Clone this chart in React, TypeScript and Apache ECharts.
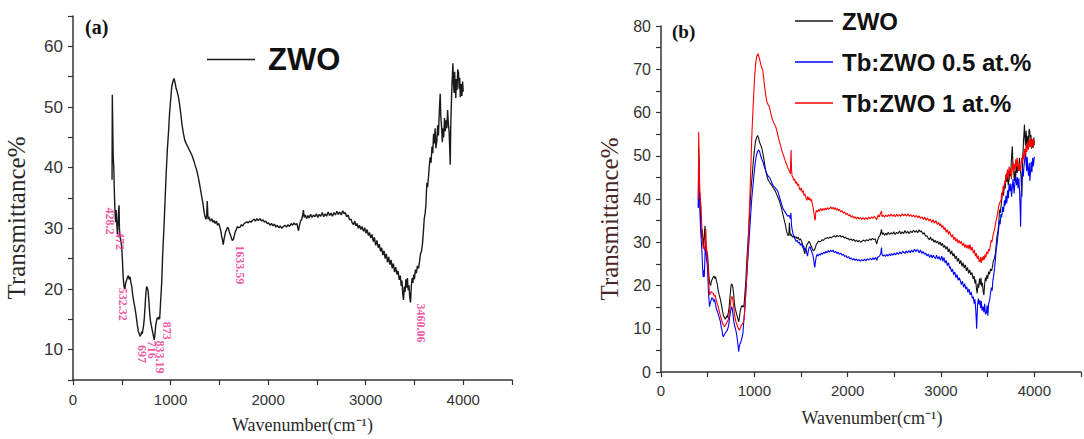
import React, { useEffect, useRef } from "react";
import * as echarts from "echarts";

// ---------- DATA ----------
const seriesNames = ["ZWO", "Tb:ZWO 0.5 at.%", "Tb:ZWO 1 at.%"];

const zwo: [number, number][] = [
  [400, 38], [403, 52], [408, 46], [412, 42], [418, 40], [424, 36], [430, 33], [436, 31], [442, 33], [448, 31],
  [455, 29], [462, 31], [468, 33], [472, 33.8], [476, 30], [482, 28.6], [490, 28], [499, 27], [506, 25], [514, 22],
  [523, 20.4], [532, 20], [540, 21], [550, 21.5], [560, 22], [568, 22.2], [576, 21.6], [585, 22], [594, 21], [602, 20.5],
  [612, 19], [622, 18], [636, 16.8], [648, 15.5], [660, 14], [670, 13], [680, 12.6], [687, 12.2], [697, 12.5], [705, 13],
  [710, 12.6], [716, 13.2], [722, 13.8], [730, 15], [740, 17.5], [748, 19.5], [755, 20.4], [762, 20.2], [770, 19.6], [778, 18],
  [786, 16], [795, 14.6], [803, 14], [810, 13.4], [818, 12.8], [825, 12.2], [833, 11.6], [840, 12.5], [848, 14], [858, 14.9],
  [866, 15.3], [873, 15], [880, 15.4], [888, 15], [895, 17], [902, 19], [909, 21], [920, 26], [932, 30], [944, 34.7],
  [955, 39], [967, 43], [978, 45.6], [990, 49], [1000, 51], [1012, 53.3], [1024, 54.2], [1036, 54.7], [1046, 54], [1058, 53],
  [1068, 52.5], [1080, 51.7], [1092, 50.5], [1104, 49], [1118, 47], [1132, 45.6], [1146, 44.5], [1160, 44], [1175, 43.5], [1190, 43],
  [1205, 42.5], [1220, 42], [1235, 41.3], [1250, 40.5], [1268, 39.6], [1282, 38.6], [1295, 37.5], [1308, 36.3], [1320, 35.2], [1333, 34],
  [1345, 32.5], [1354, 31.9], [1362, 31.5], [1370, 32], [1376, 34.5], [1380, 33], [1384, 31.5], [1392, 31.9], [1400, 31.5],
  [1410, 31.2], [1422, 31.6], [1434, 31], [1446, 31.3], [1458, 30.8], [1470, 31.2], [1482, 30.5], [1494, 30.8], [1506, 30.2], [1516, 29.5],
  [1525, 28.6], [1533, 28], [1540, 27.3], [1548, 28.2], [1556, 28.8], [1565, 29.5], [1575, 29.8], [1584, 30.2], [1593, 30], [1602, 29.4],
  [1612, 29], [1622, 28.5], [1633, 28], [1644, 28.2], [1654, 28.8], [1664, 29.5], [1675, 29.8], [1686, 30.3], [1698, 30.1], [1713, 30.2],
  [1726, 30.6], [1740, 30.4], [1754, 30.8], [1768, 30.9], [1782, 31.1], [1796, 30.9], [1810, 31.2], [1825, 31], [1840, 31.3], [1855, 31.5],
  [1870, 31.2], [1885, 31.6], [1900, 31.3], [1918, 31.6], [1932, 31.2], [1948, 31.4], [1962, 31], [1976, 31.2], [1990, 30.8], [2005, 30.9],
  [2020, 30.5], [2035, 30.8], [2050, 30.4], [2065, 30.7], [2080, 30.2], [2095, 30.5], [2110, 30.1], [2125, 30.4], [2140, 30], [2157, 30.3],
  [2172, 30.5], [2188, 30.2], [2204, 30.6], [2220, 30.3], [2236, 30.8], [2250, 30.5], [2265, 30.9], [2280, 30.6], [2295, 30.8], [2305, 30],
  [2312, 29.6], [2320, 30.4], [2332, 31.2], [2345, 31.5], [2355, 32.2], [2362, 33], [2370, 31.8], [2382, 32.2], [2395, 31.6], [2408, 32.1],
  [2420, 31.7], [2435, 32.3], [2450, 31.8], [2465, 32.2], [2480, 31.9], [2495, 32.4], [2510, 31.8], [2525, 32.3], [2540, 32], [2555, 32.6],
  [2570, 31.9], [2585, 32.4], [2600, 32], [2615, 32.7], [2630, 32.1], [2645, 32.5], [2660, 32], [2675, 32.6], [2690, 32.2], [2705, 32.8],
  [2720, 32.3], [2735, 32.7], [2750, 32.2], [2765, 32.9], [2778, 32.4], [2790, 32.6], [2805, 31.9], [2820, 32.2], [2835, 31.4], [2850, 31.5],
  [2862, 30.9], [2875, 30.6], [2888, 31.2], [2900, 30.4], [2912, 30.8], [2925, 30], [2937, 30.5], [2950, 29.8], [2962, 30.3], [2978, 29.5],
  [2990, 30.1], [3003, 29.2], [3015, 29.8], [3028, 28.8], [3040, 29.3], [3052, 28.4], [3065, 29], [3078, 27.8], [3090, 28.5], [3102, 27.2],
  [3115, 28], [3128, 26.8], [3140, 27.4], [3152, 26.2], [3164, 26.8], [3176, 25.6], [3188, 26.3], [3200, 25], [3212, 25.8], [3224, 24.4],
  [3236, 25.3], [3248, 24], [3260, 24.8], [3272, 23.4], [3284, 24.2], [3296, 22.8], [3308, 23.6], [3320, 22.4], [3332, 23], [3344, 21.5],
  [3355, 22.2], [3364, 20.5], [3372, 21.4], [3380, 19.2], [3388, 18.2], [3396, 20.4], [3404, 19.5], [3412, 21.6], [3420, 20.2], [3428, 21.8],
  [3436, 19.8], [3444, 20.6], [3452, 18.6], [3460, 17.8], [3468, 20.5], [3476, 21.8], [3484, 21], [3492, 22.4], [3500, 21.6], [3510, 23.2],
  [3520, 22.6], [3530, 23.8], [3542, 23.4], [3552, 24.5], [3562, 25.8], [3572, 26.2], [3582, 27.4], [3592, 29.5], [3600, 31.5], [3610, 32.5],
  [3618, 34], [3627, 37.5], [3635, 36.8], [3644, 38.5], [3652, 40.2], [3661, 41.7], [3670, 40.8], [3680, 43.5], [3688, 42.4], [3696, 45.6],
  [3704, 44], [3712, 46.5], [3720, 43.2], [3730, 44.5], [3738, 47], [3746, 45.3], [3754, 48.8], [3760, 51], [3764, 52.2], [3770, 48.5],
  [3778, 46.8], [3786, 44.2], [3794, 46.5], [3800, 45], [3808, 48.2], [3816, 46], [3824, 47.8], [3832, 46.5], [3840, 49.5], [3848, 47.2],
  [3856, 45.8], [3862, 43], [3867, 40.5], [3872, 46.8], [3878, 50.2], [3884, 53.5], [3890, 55.5], [3894, 57.2], [3900, 54], [3906, 52.3],
  [3912, 55.8], [3918, 53.4], [3924, 51.5], [3930, 54.6], [3936, 52.8], [3944, 56.2], [3952, 55.6], [3958, 53], [3964, 54.8], [3970, 51.6],
  [3978, 53.8], [3986, 51.8], [3994, 54.2], [4000, 52.5],
];

const tb05: [number, number][] = [
  [400, 38], [404, 50], [410, 44], [416, 38], [422, 34], [430, 31], [438, 28], [446, 24], [452, 22], [458, 23.5],
  [464, 22], [470, 26], [476, 30.5], [482, 28], [488, 26], [495, 25], [502, 22], [510, 18], [520, 15.1], [528, 16],
  [536, 16.5], [545, 17.2], [555, 17], [565, 16.3], [575, 16.8], [585, 15.5], [595, 14.5], [605, 14], [615, 13.2], [625, 12.5],
  [635, 11.8], [645, 10.5], [655, 9.5], [663, 8.3], [670, 8.2], [678, 8.6], [686, 8.9], [694, 9.2], [702, 9.5], [710, 9.6],
  [718, 10.2], [726, 11], [735, 12.5], [745, 14], [755, 15.1], [762, 14.8], [770, 13.6], [778, 12], [788, 10.8], [798, 10],
  [808, 9], [818, 7.5], [826, 6], [832, 4.7], [838, 5.8], [846, 6.5], [854, 6.8], [862, 7.5], [870, 8.2], [878, 9],
  [886, 11.5], [894, 13.5], [902, 16], [912, 19.5], [924, 24], [936, 28], [948, 32], [960, 36], [972, 40], [985, 43],
  [998, 46], [1010, 48.5], [1022, 50], [1034, 51], [1046, 51.3], [1056, 51], [1068, 50], [1080, 49.2], [1094, 48.5], [1108, 47.4],
  [1122, 46.5], [1136, 45.8], [1150, 45.2], [1164, 45], [1178, 44.3], [1192, 43.5], [1206, 43], [1220, 42.7], [1234, 42.3], [1248, 42],
  [1262, 41], [1276, 40], [1290, 39], [1304, 38], [1318, 37.4], [1332, 36.9], [1346, 36.4], [1360, 36], [1372, 36.2], [1380, 36],
  [1386, 35.4], [1392, 36.8], [1398, 34], [1405, 33], [1414, 32], [1423, 31.2], [1435, 30.8], [1447, 30.2], [1458, 30.5], [1470, 29.8],
  [1482, 30.1], [1493, 29.3], [1505, 29.7], [1517, 28.8], [1528, 29.2], [1540, 28.2], [1552, 28.6], [1563, 27.4], [1570, 26.8], [1578, 28],
  [1588, 28.8], [1598, 29], [1608, 28.2], [1618, 27.6], [1628, 27], [1636, 26], [1642, 24.8], [1648, 24.2], [1654, 25.4], [1662, 26.5],
  [1672, 27.2], [1684, 26.8], [1695, 27.3], [1706, 27], [1718, 27.5], [1730, 27.2], [1742, 27.7], [1755, 27.4], [1768, 27.9], [1780, 27.6],
  [1792, 28.1], [1805, 27.7], [1818, 28.2], [1830, 27.8], [1843, 28.2], [1856, 27.6], [1870, 27.9], [1884, 27.4], [1898, 27.7], [1912, 27.2],
  [1926, 27.5], [1940, 27], [1954, 27.2], [1968, 26.7], [1982, 26.9], [1996, 26.4], [2010, 26.7], [2024, 26.1], [2038, 26.4], [2052, 25.9],
  [2066, 26.2], [2080, 25.8], [2094, 26.1], [2108, 25.7], [2122, 26], [2136, 25.6], [2150, 26], [2165, 25.7], [2180, 26.1], [2195, 25.7],
  [2210, 26.2], [2227, 25.9], [2242, 26.3], [2258, 25.9], [2272, 26.4], [2286, 26], [2300, 26.5], [2312, 25.8], [2322, 26.6], [2332, 26.6],
  [2345, 26.9], [2356, 27.6], [2362, 28.8], [2368, 27.2], [2378, 26.8], [2390, 27.1], [2404, 26.7], [2418, 27.2], [2432, 26.8], [2446, 27.3],
  [2460, 26.9], [2472, 27.4], [2486, 27], [2500, 27.5], [2515, 27.1], [2530, 27.6], [2545, 27.2], [2560, 27.8], [2575, 27.3], [2590, 27.9],
  [2612, 27.4], [2626, 28], [2640, 27.5], [2655, 28.1], [2670, 27.6], [2685, 28.2], [2700, 27.7], [2715, 28.4], [2730, 27.8], [2745, 28.3],
  [2752, 28.2], [2766, 27.6], [2780, 28.2], [2795, 27.4], [2810, 27.9], [2822, 27.2], [2836, 27.5], [2850, 26.8], [2864, 27.3], [2878, 26.5],
  [2892, 27.1], [2906, 26.4], [2918, 27], [2927, 26.6], [2940, 26.2], [2952, 27], [2966, 26.1], [2980, 26.7], [2994, 25.8], [3008, 26.8],
  [3020, 25.6], [3032, 26.5], [3044, 25.2], [3056, 25.8], [3068, 24.6], [3080, 25.3], [3092, 24], [3101, 24.3], [3112, 23.2], [3124, 23.8],
  [3136, 22.5], [3148, 23.1], [3160, 21.8], [3172, 22.5], [3184, 21.2], [3196, 21.8], [3206, 21.2], [3218, 20.2], [3230, 21], [3242, 19.6],
  [3254, 20.4], [3266, 19.2], [3276, 19.7], [3288, 18.4], [3300, 19.2], [3312, 17.8], [3324, 18.5], [3336, 17], [3346, 17.4], [3356, 15.8],
  [3364, 16.8], [3372, 14.5], [3378, 12], [3382, 10], [3386, 12.5], [3392, 15.5], [3400, 17], [3408, 15.6], [3416, 16.6], [3424, 14.8],
  [3432, 16.4], [3440, 14.2], [3451, 15.1], [3460, 13.8], [3468, 15.8], [3476, 13.4], [3486, 13.6], [3494, 15.4], [3502, 13], [3510, 15.8],
  [3521, 16.6], [3530, 18.2], [3540, 19.5], [3548, 18.8], [3556, 21.2], [3566, 22.5], [3576, 24.5], [3584, 26.2], [3591, 28.2], [3600, 29.5],
  [3610, 31.5], [3618, 33.2], [3626, 35.1], [3634, 34.2], [3642, 36.5], [3650, 35.8], [3661, 38.2], [3670, 37], [3680, 39.7], [3688, 38.5],
  [3696, 40.8], [3705, 39], [3714, 42], [3722, 40.2], [3730, 43.5], [3740, 41.8], [3748, 43.6], [3756, 40.5], [3764, 42.8], [3772, 44.6],
  [3783, 41.3], [3792, 43.8], [3800, 45.1], [3810, 43.2], [3818, 45.1], [3826, 42.5], [3834, 44.8], [3842, 41.6], [3848, 38], [3853, 33.6],
  [3858, 40.2], [3866, 44.5], [3874, 46.8], [3882, 45.2], [3888, 47.4], [3896, 48.8], [3906, 51.5], [3912, 48.2], [3918, 46.5], [3923, 49.7],
  [3930, 47.2], [3938, 45.4], [3946, 48.3], [3952, 44.2], [3958, 45.8], [3966, 48.6], [3974, 46.2], [3982, 49.5], [3990, 47.6], [4000, 49.8],
];

const tb1: [number, number][] = [
  [400, 40], [404, 55.5], [410, 47], [416, 42], [422, 40], [430, 38], [438, 33], [446, 30], [454, 28.5], [462, 29],
  [470, 28], [476, 31], [480, 33], [486, 29], [494, 27], [502, 25], [510, 21], [520, 17.8], [528, 18.2], [538, 18.6],
  [548, 18.3], [560, 18.2], [570, 17.5], [580, 17.8], [590, 16.8], [600, 16], [612, 15.2], [625, 14], [638, 12.8], [650, 12],
  [660, 11.2], [670, 10.8], [680, 10.5], [690, 10.8], [700, 11.2], [710, 11.6], [720, 12], [730, 13.4], [740, 15], [750, 16.8],
  [760, 17.5], [768, 17], [776, 15.5], [786, 13.6], [796, 12.2], [806, 11.4], [816, 10.8], [826, 10.2], [836, 9.8], [842, 9.7],
  [850, 10.2], [860, 10.8], [870, 11], [880, 11.4], [890, 12.2], [900, 15], [910, 19], [920, 23], [930, 27], [940, 33],
  [951, 39.7], [962, 47], [972, 54], [982, 59], [993, 64], [1004, 68.5], [1015, 71.5], [1026, 73], [1040, 73.6], [1050, 72.8],
  [1060, 72], [1070, 71], [1080, 70.4], [1091, 69.7], [1100, 68], [1110, 66], [1122, 64], [1134, 62.5], [1148, 61.8], [1161, 61.3],
  [1175, 60], [1190, 58.6], [1205, 57.8], [1218, 57.2], [1231, 56.6], [1245, 55.4], [1260, 54], [1275, 52.8], [1290, 51.6], [1304, 50.6],
  [1318, 49.7], [1332, 48.8], [1346, 48], [1360, 47.2], [1371, 46.6], [1380, 46.3], [1386, 45.8], [1390, 49], [1394, 51.3], [1398, 47],
  [1404, 45.4], [1414, 45], [1423, 44.3], [1433, 44.6], [1443, 43.6], [1453, 44], [1463, 43.1], [1473, 43.5], [1483, 42.4], [1493, 42],
  [1503, 42.6], [1513, 41.5], [1523, 42], [1533, 40.8], [1543, 41.2], [1553, 40.3], [1563, 39.7], [1572, 40.6], [1582, 39.8], [1592, 40.3],
  [1602, 39.6], [1612, 39.9], [1622, 38.8], [1632, 37.8], [1640, 36.6], [1646, 35.4], [1652, 35.1], [1658, 36.8], [1666, 37.4], [1676, 37],
  [1688, 37.6], [1700, 37.2], [1712, 37.8], [1724, 37.3], [1736, 37.8], [1748, 37.4], [1760, 37.9], [1772, 37.5], [1784, 38], [1796, 37.6],
  [1808, 37.8], [1820, 38.2], [1832, 37.7], [1844, 38.1], [1856, 37.6], [1868, 38], [1880, 37.4], [1892, 37.8], [1904, 37.3], [1913, 37.6],
  [1926, 37], [1940, 37.3], [1954, 36.7], [1968, 37], [1982, 36.4], [1996, 36.7], [2010, 36.1], [2024, 36.4], [2038, 35.8], [2052, 36.1],
  [2066, 35.6], [2080, 35.9], [2094, 35.4], [2108, 35.8], [2122, 35.4], [2136, 35.7], [2150, 35.3], [2165, 35.7], [2180, 35.3], [2195, 35.7],
  [2210, 35.3], [2225, 35.8], [2240, 35.4], [2255, 35.9], [2270, 35.5], [2285, 36], [2298, 35.6], [2310, 35.2], [2318, 35.8], [2328, 36.3],
  [2338, 35.8], [2348, 36.5], [2356, 36.9], [2362, 37.2], [2368, 35.9], [2380, 36.3], [2394, 35.8], [2408, 36.3], [2422, 35.9], [2436, 36.4],
  [2450, 36], [2465, 36.5], [2480, 36], [2495, 36.4], [2510, 35.9], [2525, 36.5], [2540, 36], [2555, 36.4], [2570, 36], [2585, 36.6],
  [2600, 36.1], [2615, 36.5], [2630, 36], [2645, 36.6], [2660, 36], [2675, 36.4], [2690, 35.9], [2705, 36.3], [2720, 35.8], [2735, 36.2],
  [2750, 35.7], [2765, 36.1], [2780, 35.5], [2795, 35.9], [2810, 35.3], [2825, 35.8], [2840, 35.1], [2855, 35.6], [2870, 34.9], [2885, 35.4],
  [2900, 34.6], [2915, 35.2], [2930, 34.4], [2945, 35], [2960, 34.1], [2975, 34.6], [2988, 33.8], [2997, 34.3], [3008, 33.4], [3020, 33.9],
  [3032, 32.9], [3044, 33.4], [3056, 32.3], [3068, 32.9], [3080, 31.8], [3090, 32.5], [3101, 32], [3112, 31.2], [3124, 31.8], [3136, 30.6],
  [3148, 31.2], [3160, 30.2], [3172, 30.8], [3184, 29.8], [3196, 30.4], [3206, 29.7], [3218, 30.2], [3230, 29.2], [3242, 29.8], [3254, 28.8],
  [3266, 29.5], [3278, 28.6], [3290, 29.4], [3300, 28.4], [3311, 29.5], [3322, 28.1], [3334, 28.9], [3346, 27.5], [3358, 28.2], [3368, 26.8],
  [3378, 27.5], [3388, 26.2], [3398, 26.9], [3408, 25.6], [3416, 25.5], [3424, 26.6], [3432, 25.2], [3440, 26.5], [3448, 25.8], [3456, 26.8],
  [3464, 26], [3472, 27.2], [3480, 26.5], [3490, 27.8], [3500, 27.3], [3510, 28.4], [3520, 28], [3530, 29.5], [3538, 30.5], [3546, 30],
  [3556, 31.5], [3566, 32.4], [3576, 33.2], [3584, 34.2], [3591, 35.1], [3600, 36], [3610, 37.2], [3620, 38.5], [3630, 39.2], [3643, 39.7],
  [3650, 41.5], [3658, 40.6], [3666, 43], [3674, 42], [3682, 44.2], [3690, 43.4], [3696, 45.8], [3704, 44.5], [3712, 46.8], [3720, 45],
  [3730, 47.5], [3738, 45.8], [3746, 47], [3754, 44.6], [3762, 46.8], [3770, 48.5], [3778, 46.2], [3786, 48], [3794, 46.8], [3800, 49.2],
  [3808, 47.4], [3816, 49.6], [3824, 47.8], [3832, 46.5], [3840, 48.2], [3848, 46.4], [3856, 47], [3864, 49.5], [3872, 48.3], [3880, 50.5],
  [3888, 49.2], [3896, 51.6], [3904, 50], [3912, 52.4], [3920, 50.8], [3928, 53.2], [3936, 51.4], [3944, 53.8], [3952, 52], [3960, 54.2],
  [3968, 51.8], [3976, 53.6], [3984, 52.2], [3992, 54], [4000, 52.4],
];

// Peak annotations of panel (a): label text (= wavenumber) and transmittance at the label centre
const peakLabels = ["428.2", "472", "532.32", "697", "716", "833.19", "873", "1633.59", "3460.06"];
const peakLabelT = [31.2, 27.9, 17.5, 9.3, 10, 8.8, 13.1, 24, 14.4];
// horizontal shift (px) of each label from its wavenumber
const peakLabelShift = [-5, 1, -2, 1, 9, 6, 9, 8, 10];

// ---------- STYLE ----------
const SERIF = '"Liberation Serif", "Times New Roman", serif';
const SANS = '"Liberation Sans", Arial, sans-serif';
const AXIS_COLOR = "#333";

function makeXAxis(gridIndex: number, nameGap: number, labelMargin: number, namePadding: number[]) {
  return {
    type: "value" as const,
    gridIndex,
    min: 0,
    max: 4500,
    interval: 500,
    name: "Wavenumber(cm⁻¹)",
    nameLocation: "middle" as const,
    nameGap,
    nameTextStyle: { fontFamily: SERIF, fontSize: 18, color: "#2a2a2a", padding: namePadding },
    axisLine: { show: true, onZero: false, lineStyle: { color: AXIS_COLOR, width: 1.5 } },
    axisTick: { show: true, inside: false, length: 5, lineStyle: { color: AXIS_COLOR, width: 1.2 } },
    axisLabel: {
      margin: labelMargin,
      fontFamily: SANS,
      fontSize: 15,
      color: "#333",
      formatter: (v: number) => (v % 1000 === 0 ? String(v) : ""),
    },
    splitLine: { show: false },
  };
}

function makeYAxis(gridIndex: number, min: number, max: number, fontSize: number, nameColor: string, nameGap: number) {
  return {
    type: "value" as const,
    gridIndex,
    min,
    max,
    interval: 5,
    name: "Transmittance%",
    nameLocation: "middle" as const,
    nameGap,
    // extra padding on the (rotated) right side moves the title down along the axis
    nameTextStyle: { fontFamily: SERIF, fontSize: 25, color: nameColor, padding: [0, 40, 0, 0] },
    axisLine: { show: true, onZero: false, lineStyle: { color: AXIS_COLOR, width: 1.5 } },
    axisTick: { show: true, inside: false, length: 5, lineStyle: { color: AXIS_COLOR, width: 1.2 } },
    axisLabel: {
      margin: 10,
      fontFamily: SANS,
      fontSize,
      color: "#333",
      formatter: (v: number) => (v % 10 === 0 ? String(v) : ""),
    },
    splitLine: { show: false },
  };
}

function lineSeries(name: string, data: [number, number][], color: string, axisIndex: number, z: number, width: number) {
  return {
    type: "line" as const,
    name,
    xAxisIndex: axisIndex,
    yAxisIndex: axisIndex,
    data,
    showSymbol: false,
    symbol: "none",
    color,
    lineStyle: { color, width },
    z,
    silent: true,
  };
}

export default function App() {
  const ref = useRef<HTMLDivElement>(null);

  useEffect(() => {
    if (!ref.current) return;
    const chart = echarts.init(ref.current, undefined, { renderer: "svg" });

    // label is rotated -90deg, so its local y axis points to the screen's left
    const labelData = peakLabels.map((name, i) => ({
      name,
      value: [Number(name), peakLabelT[i]],
      label: { offset: [0, -peakLabelShift[i]] },
    }));

    chart.setOption({
      animation: false,
      backgroundColor: "#fff",
      grid: [
        { left: 73, top: 16, width: 439, height: 364 },
        { left: 661, top: 26, width: 429, height: 346 },
      ],
      xAxis: [makeXAxis(0, 36, 12, [0, 0, 0, 20]), makeXAxis(1, 37, 11, [0, 0, 0, 2])],
      yAxis: [makeYAxis(0, 5, 65, 17, "#2a2a2a", 44), makeYAxis(1, 0, 80, 16, "#4a2626", 39)],
      legend: [
        {
          data: ["ZWO"],
          left: 207,
          top: 44,
          icon: "rect",
          itemWidth: 48,
          itemHeight: 1.5,
          padding: 0,
          selectedMode: false,
          textStyle: { fontFamily: SANS, fontWeight: "bold", fontSize: 31, color: "#111", padding: [0, 0, 0, 8] },
        },
        {
          data: seriesNames,
          orient: "vertical",
          left: 795,
          top: 9,
          itemGap: 17,
          icon: "rect",
          itemWidth: 38,
          itemHeight: 1.5,
          padding: 0,
          selectedMode: false,
          textStyle: { fontFamily: SANS, fontWeight: "bold", fontSize: 24, color: "#111", padding: [0, 0, 0, 4] },
        },
      ],
      graphic: [
        {
          type: "text",
          left: 85,
          top: 17,
          style: { text: "(a)", fontFamily: SERIF, fontWeight: "bold", fontSize: 20, fill: "#111" },
        },
        {
          type: "text",
          left: 672,
          top: 22,
          style: { text: "(b)", fontFamily: SERIF, fontWeight: "bold", fontSize: 19, fill: "#111" },
        },
      ],
      series: [
        lineSeries(seriesNames[0], zwo, "#1a1a1a", 0, 2, 1.4),
        {
          type: "scatter",
          xAxisIndex: 0,
          yAxisIndex: 0,
          data: labelData,
          symbolSize: 1,
          itemStyle: { color: "rgba(0,0,0,0)" },
          silent: true,
          z: 5,
          label: {
            show: true,
            position: "inside",
            formatter: "{b}",
            rotate: -90,
            fontFamily: SERIF,
            fontSize: 12,
            fontWeight: "bold",
            color: "#ec2a8c",
          },
        },
        lineSeries(seriesNames[0], zwo, "#111", 1, 2, 1.1),
        lineSeries(seriesNames[1], tb05, "#0000ff", 1, 3, 1.1),
        lineSeries(seriesNames[2], tb1, "#ff0000", 1, 4, 1.1),
      ],
    });

    return () => chart.dispose();
  }, []);

  return (
    <div
      ref={ref}
      style={{ position: "absolute", left: 0, top: 0, width: 1084, height: 439 }}
    />
  );
}
